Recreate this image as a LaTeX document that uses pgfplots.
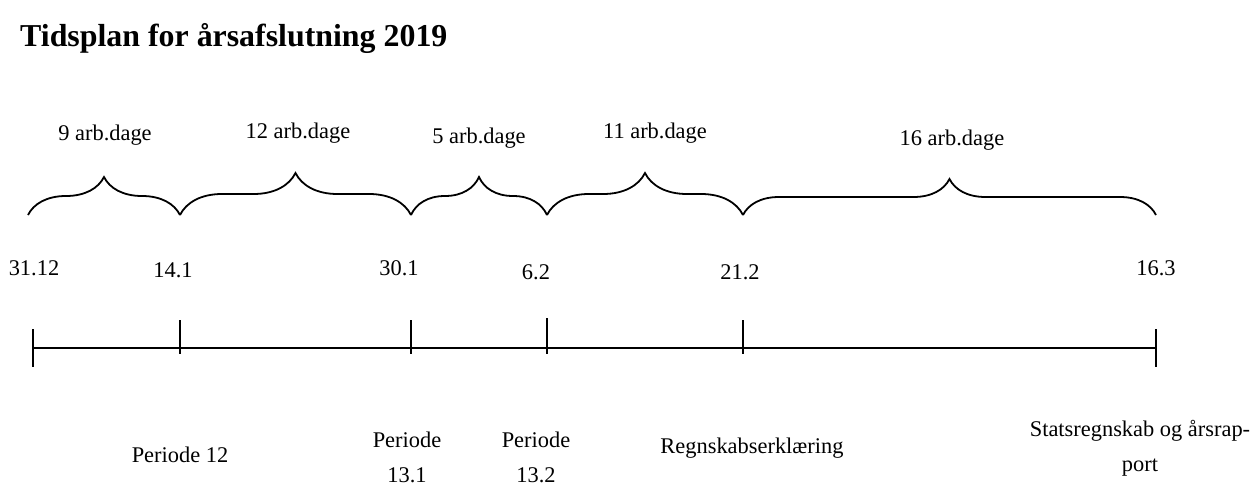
\documentclass[border=0pt]{standalone}
\usepackage{fontspec}
\setmainfont{Liberation Serif}
\usepackage{pgfplots}
\pgfplotsset{compat=1.18}
\usetikzlibrary{decorations.pathreplacing}
\tikzset{lbl/.style={font=\fontsize{22.5}{35}\selectfont, align=center, inner sep=0pt},
  ln/.style={black, line width=1.8bp, mark=none, solid}}

\begin{document}
\begin{tikzpicture}
\useasboundingbox (0,0) rectangle (1260bp,486bp);
\begin{axis}[
  at={(0,0)}, anchor=south west,
  scale only axis, width=1260bp, height=486bp,
  xmin=0, xmax=1260, ymin=0, ymax=486, y dir=reverse,
  hide axis, clip=false,
]
% main timeline
\addplot[ln] coordinates {(33,348) (1156,348)};
% ticks
\addplot[ln] coordinates {(33,329) (33,367)};
\addplot[ln] coordinates {(180,320) (180,354)};
\addplot[ln] coordinates {(411,320) (411,354)};
\addplot[ln] coordinates {(547,318) (547,354)};
\addplot[ln] coordinates {(743,320) (743,354)};
\addplot[ln] coordinates {(1156,329) (1156,367)};
% braces
\addplot[ln, decorate, decoration={brace, amplitude=38bp}] coordinates {(28,215) (180,215)};
\addplot[ln, decorate, decoration={brace, amplitude=42bp}] coordinates {(180,215) (411,215)};
\addplot[ln, decorate, decoration={brace, amplitude=38bp}] coordinates {(411,215) (547,215)};
\addplot[ln, decorate, decoration={brace, amplitude=42bp}] coordinates {(547,215) (743,215)};
\addplot[ln, decorate, decoration={brace, amplitude=36bp}] coordinates {(743,215) (1156,215)};

% title
\node[anchor=base west, inner sep=0pt, font=\fontsize{32}{38}\selectfont\bfseries] at (axis cs:20,47) {Tidsplan for årsafslutning 2019};

% brace labels
\node[lbl] at (axis cs:105,135) {9 arb.dage};
\node[lbl] at (axis cs:298,133) {12 arb.dage};
\node[lbl] at (axis cs:479,138) {5 arb.dage};
\node[lbl] at (axis cs:655,133) {11 arb.dage};
\node[lbl] at (axis cs:952,140) {16 arb.dage};

% date labels
\node[lbl] at (axis cs:34,268) {31.12};
\node[lbl] at (axis cs:173,270) {14.1};
\node[lbl] at (axis cs:399,268) {30.1};
\node[lbl] at (axis cs:536,272) {6.2};
\node[lbl] at (axis cs:740,272) {21.2};
\node[lbl] at (axis cs:1156,268) {16.3};

% bottom labels
\node[lbl] at (axis cs:180,455) {Periode 12};
\node[lbl] at (axis cs:407,457) {Periode\\13.1};
\node[lbl] at (axis cs:536,457) {Periode\\13.2};
\node[lbl] at (axis cs:752,448) {Regnskabserklæring};
\node[lbl] at (axis cs:1140,448) {Statsregnskab og årsrap-\\port};
\end{axis}
\end{tikzpicture}
\end{document}
